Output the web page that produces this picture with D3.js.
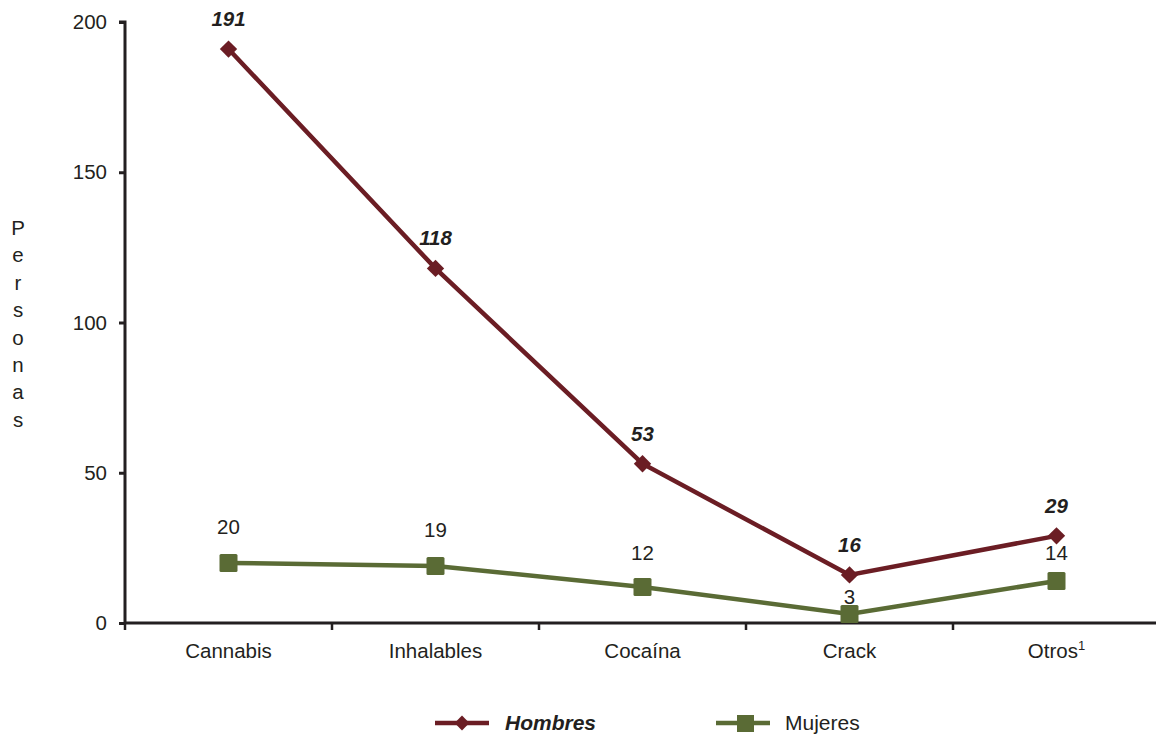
<!DOCTYPE html>
<html><head><meta charset="utf-8">
<script src="https://cdn.jsdelivr.net/npm/d3@7/dist/d3.min.js"></script>
<style>body{margin:0;background:#fff}svg{display:block}text{font-family:"Liberation Sans",Arial,sans-serif;fill:#231f20}</style>
</head><body><svg id="c" width="1156" height="734"></svg>
<script>
const categories = ["Cannabis","Inhalables","Cocaína","Crack","Otros"];
const hombres = [191,118,53,16,29];
const mujeres = [20,19,12,3,14];
const yTicks = [0,50,100,150,200];
const yLabel = "Personas";

const FS = 20.5;
const svg = d3.select("#c");
const x = d3.scaleBand().domain(categories).range([125,1160]);
const y = d3.scaleLinear().domain([0,200]).range([623,22]);
const cx = d => x(d) + x.bandwidth()/2;
const colH = "#6b1d24", colM = "#5a6b35";

// y axis
const ya = svg.append("g").attr("transform","translate(125,0)")
  .call(d3.axisLeft(y).tickValues(yTicks).tickSize(6).tickPadding(12));
ya.select(".domain").attr("stroke","#231f20").attr("stroke-width",3).attr("d","M-6,"+y(200)+"H0V"+y(0));
ya.selectAll(".tick line").attr("stroke","#231f20").attr("stroke-width",3);
ya.selectAll(".tick text").attr("font-size",FS).style("font-family","Liberation Sans, Arial, sans-serif").attr("fill","#231f20");

// x axis
const xa = svg.append("g").attr("transform","translate(0,623)")
  .call(d3.axisBottom(x).tickSize(0).tickPadding(20).tickFormat(d=>d));
xa.select(".domain").attr("stroke","#231f20").attr("stroke-width",3).attr("d","M125,0H1160");
xa.selectAll(".tick text").attr("font-size",FS).style("font-family","Liberation Sans, Arial, sans-serif").attr("fill","#231f20");
xa.selectAll(".tick").filter(d=>d==="Otros").select("text")
  .text("Otros").append("tspan").attr("font-size",13).attr("dy",-8).text("1");
// boundary ticks
const bounds = categories.map(c=>x(c)).concat([x.range()[1]]);
svg.append("g").selectAll("line").data(bounds).join("line")
  .attr("x1",d=>d).attr("x2",d=>d).attr("y1",623).attr("y2",630)
  .attr("stroke","#231f20").attr("stroke-width",2.5);

// y label stacked
svg.append("g").selectAll("text").data(yLabel.split("")).join("text")
  .attr("x",18).attr("y",(d,i)=>235+i*27.4).attr("text-anchor","middle")
  .attr("font-size",FS).text(d=>d);

const line = d3.line().x((d,i)=>cx(categories[i])).y(d=>y(d));
// Mujeres
svg.append("path").datum(mujeres).attr("d",line).attr("fill","none").attr("stroke",colM).attr("stroke-width",4.5);
svg.append("g").selectAll("rect").data(mujeres).join("rect")
  .attr("x",(d,i)=>cx(categories[i])-9).attr("y",d=>y(d)-9).attr("width",18).attr("height",18).attr("rx",1.5)
  .attr("fill",colM);
// Hombres
svg.append("path").datum(hombres).attr("d",line).attr("fill","none").attr("stroke",colH).attr("stroke-width",4.5);
const diamond = d3.symbol().type(d3.symbolSquare).size(150);
svg.append("g").selectAll("path").data(hombres).join("path")
  .attr("d",diamond).attr("transform",(d,i)=>`translate(${cx(categories[i])},${y(d)}) rotate(45)`)
  .attr("fill",colH);

// labels
svg.append("g").selectAll("text").data(hombres).join("text")
  .attr("x",(d,i)=>cx(categories[i])).attr("y",d=>y(d)-23)
  .attr("text-anchor","middle").attr("font-size",FS).attr("font-weight","bold").attr("font-style","italic")
  .text(d=>d);
const mOff = [-29,-29,-27,-10,-21];
svg.append("g").selectAll("text").data(mujeres).join("text")
  .attr("x",(d,i)=>cx(categories[i])).attr("y",(d,i)=>y(d)+mOff[i])
  .attr("text-anchor","middle").attr("font-size",FS)
  .text(d=>d);

// legend
const lg = svg.append("g");
lg.append("line").attr("x1",435).attr("x2",489).attr("y1",723).attr("y2",723).attr("stroke",colH).attr("stroke-width",4.5);
lg.append("path").attr("d",d3.symbol().type(d3.symbolSquare).size(110)).attr("transform","translate(462,723) rotate(45)").attr("fill",colH);
lg.append("text").attr("x",505).attr("y",730).attr("font-size",FS+0.5).attr("font-weight","bold").attr("font-style","italic").text("Hombres");
lg.append("line").attr("x1",716).attr("x2",770).attr("y1",723).attr("y2",723).attr("stroke",colM).attr("stroke-width",4.5);
lg.append("rect").attr("x",737).attr("y",715).attr("width",17).attr("height",17).attr("fill",colM);
lg.append("text").attr("x",785).attr("y",730).attr("font-size",FS+0.5).text("Mujeres");
</script></body></html>
